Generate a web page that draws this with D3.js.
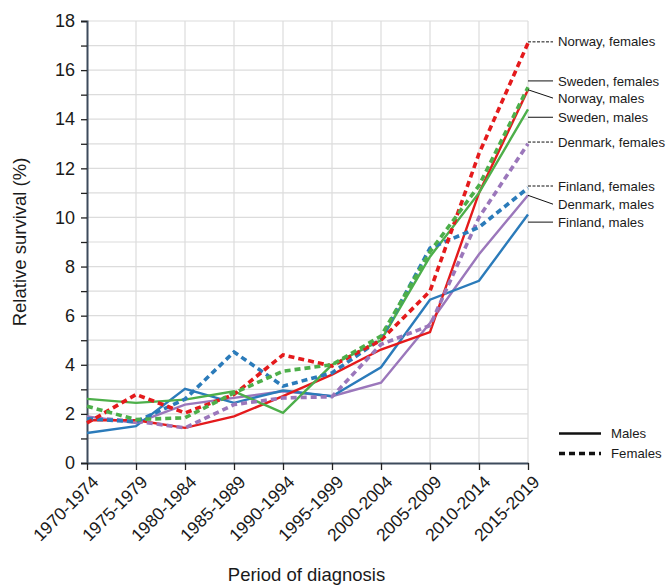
<!DOCTYPE html>
<html>
<head>
<meta charset="utf-8">
<script src="https://cdn.jsdelivr.net/npm/d3@7"></script>
<style>
  body { margin: 0; background: #fff; }
  svg text { font-family: "Liberation Sans", Arial, sans-serif; fill: #1a1a1a; }
</style>
</head>
<body>
<div id="chart"></div>
<script>
const periods = ["1970-1974","1975-1979","1980-1984","1985-1989","1990-1994",
                 "1995-1999","2000-2004","2005-2009","2010-2014","2015-2019"];

const finlandMales     = [1.22, 1.50, 3.02, 2.45, 2.95, 2.72, 3.90, 6.65, 7.42, 10.12];
const finlandFemales   = [1.80, 1.68, 2.60, 4.52, 3.13, 3.67, 5.05, 8.75, 9.60, 11.20];
const denmarkMales     = [1.90, 1.63, 2.38, 2.65, 2.92, 2.72, 3.27, 5.70, 8.50, 10.90];
const denmarkFemales   = [1.85, 1.70, 1.43, 2.38, 2.65, 2.70, 4.83, 5.60, 10.00, 13.00];
const norwayMales      = [1.74, 1.74, 1.43, 1.90, 2.72, 3.60, 4.62, 5.33, 11.00, 15.20];
const norwayFemales    = [1.63, 2.79, 2.04, 2.79, 4.40, 3.95, 5.00, 7.00, 12.60, 17.10];
const swedenMales      = [2.61, 2.45, 2.58, 2.92, 2.04, 4.00, 5.00, 8.40, 11.00, 14.40];
const swedenFemales    = [2.31, 1.77, 1.84, 2.85, 3.74, 4.00, 5.17, 8.60, 11.30, 15.30];

const yTicks = [0, 2, 4, 6, 8, 10, 12, 14, 16, 18];

// series: [label, values, colour, female?, label anchor value]
const series = [
  ["Denmark, males",   denmarkMales,   "#9b77bb", false, 10.54],
  ["Finland, males",   finlandMales,   "#2b7bba", false, 9.81],
  ["Norway, males",    norwayMales,    "#e41a1c", false, 14.86],
  ["Sweden, males",    swedenMales,    "#4daf4a", false, 14.08],
  ["Denmark, females", denmarkFemales, "#9b77bb", true,  13.07],
  ["Finland, females", finlandFemales, "#2b7bba", true,  11.28],
  ["Norway, females",  norwayFemales,  "#e41a1c", true,  17.15],
  ["Sweden, females",  swedenFemales,  "#4daf4a", true,  15.56],
];

const W = 667, H = 585;
const margin = { top: 21, right: 139, bottom: 122, left: 87 };
const iw = W - margin.left - margin.right, ih = H - margin.top - margin.bottom;

const svg = d3.select("#chart").append("svg").attr("width", W).attr("height", H);
const g = svg.append("g").attr("transform", `translate(${margin.left},${margin.top})`);

const x = d3.scalePoint().domain(periods).range([0, iw]);
const y = d3.scaleLinear().domain([0, 18]).range([ih, 0]);

// grid
g.append("g").selectAll("line").data(d3.range(1, 19)).join("line")
  .attr("x1", 0).attr("x2", iw).attr("y1", d => y(d)).attr("y2", d => y(d))
  .attr("stroke", "#dcdcdc").attr("stroke-width", 1.2);
g.append("g").selectAll("line").data(periods.slice(1)).join("line")
  .attr("x1", d => x(d)).attr("x2", d => x(d)).attr("y1", 0).attr("y2", ih)
  .attr("stroke", "#dcdcdc").attr("stroke-width", 1.2);

// y axis
const yAxis = g.append("g")
  .call(d3.axisLeft(y).tickValues(d3.range(0, 19)).tickSize(6)
    .tickFormat(d => yTicks.includes(d) ? d : ""));
yAxis.select(".domain").attr("stroke", "#3d4b5c").attr("stroke-width", 2);
yAxis.selectAll(".tick line").attr("stroke", "#222").attr("stroke-width", 1.3);
yAxis.selectAll(".tick text").attr("font-size", 18).attr("x", -12);

// x axis
const xAxis = g.append("g").attr("transform", `translate(0,${ih})`)
  .call(d3.axisBottom(x).tickSize(7).tickSizeOuter(0));
xAxis.select(".domain").attr("stroke", "#3d4b5c").attr("stroke-width", 2);
xAxis.selectAll(".tick line").attr("stroke", "#222").attr("stroke-width", 1.3);
xAxis.selectAll(".tick text")
  .attr("font-size", 17.5)
  .attr("text-anchor", "end")
  .attr("dy", 0)
  .attr("transform", "translate(5,13) rotate(-45)");

// lines
const line = d3.line().x((d, i) => x(periods[i])).y(d => y(d));
g.append("g").selectAll("path").data(series).join("path")
  .attr("d", d => line(d[1]))
  .attr("fill", "none")
  .attr("stroke", d => d[2])
  .attr("stroke-width", d => d[3] ? 3.6 : 2.4)
  .attr("stroke-dasharray", d => d[3] ? "6,4" : null);

// end labels with leaders
const last = periods[periods.length - 1];
const lab = g.append("g");
series.forEach(([name, vals, , female, ly]) => {
  const horiz = Math.abs(y(vals[vals.length - 1]) - y(ly)) < 8 || name === "Sweden, females";
  lab.append("line")
    .attr("x1", x(last)).attr("y1", horiz ? y(ly) : y(vals[vals.length - 1]))
    .attr("x2", x(last) + 25).attr("y2", y(ly))
    .attr("stroke", "#111").attr("stroke-width", 1)
    .attr("stroke-dasharray", horiz && female && name !== "Sweden, females" ? "3,1.5" : null);
  lab.append("text")
    .attr("x", x(last) + 30).attr("y", y(ly)).attr("dy", "0.35em")
    .attr("font-size", 13.2).text(name);
});

// legend
const leg = g.append("g").attr("transform", `translate(${iw + 31},${y(1.2)})`);
[["Males", false], ["Females", true]].forEach(([t, f], i) => {
  leg.append("line").attr("x1", 0).attr("x2", 42).attr("y1", i * 20).attr("y2", i * 20)
    .attr("stroke", "#111").attr("stroke-width", f ? 3.5 : 2.4)
    .attr("stroke-dasharray", f ? "6,4" : null);
  leg.append("text").attr("x", 52).attr("y", i * 20).attr("dy", "0.35em")
    .attr("font-size", 13.2).text(t);
});

// axis titles
svg.append("text")
  .attr("transform", `translate(26,${margin.top + ih / 2}) rotate(-90)`)
  .attr("text-anchor", "middle").attr("font-size", 18.5).text("Relative survival (%)");
svg.append("text")
  .attr("x", margin.left + iw / 2 - 1).attr("y", 581)
  .attr("text-anchor", "middle").attr("font-size", 18.5).text("Period of diagnosis");
</script>
</body>
</html>
